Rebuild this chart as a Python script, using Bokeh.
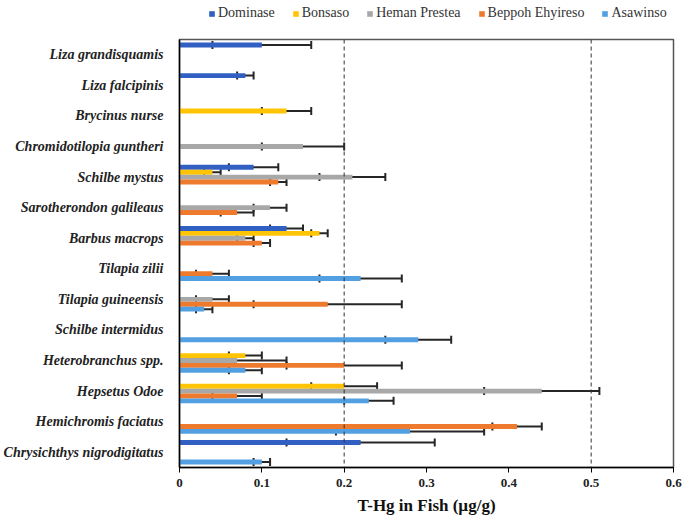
from bokeh.plotting import figure
from bokeh.layouts import column
from bokeh.models import (FactorRange, Range1d, ColumnDataSource, Whisker, TeeHead, Span,
                          Legend, LegendItem, FixedTicker, NumeralTickFormatter)
from bokeh.transform import dodge
from bokeh.embed import file_html
from bokeh.resources import INLINE

species = [
    "Liza grandisquamis", "Liza falcipinis", "Brycinus nurse", "Chromidotilopia guntheri",
    "Schilbe mystus", "Sarotherondon galileaus", "Barbus macrops", "Tilapia zilii",
    "Tilapia guineensis", "Schilbe intermidus", "Heterobranchus spp.", "Hepsetus Odoe",
    "Hemichromis faciatus", "Chrysichthys nigrodigitatus",
]
series = ["Dominase", "Bonsaso", "Heman Prestea", "Beppoh Ehyireso", "Asawinso"]
colors = ["#3160C2", "#FFC404", "#A8A8A8", "#EE7A2E", "#52A0E2"]

dominase = [0.10, 0.08, 0, 0, 0.09, 0, 0.13, 0, 0, 0, 0, 0, 0, 0.22]
dominase_err = [0.06, 0.01, 0, 0, 0.03, 0, 0.02, 0, 0, 0, 0, 0, 0, 0.09]
bonsaso = [0, 0, 0.13, 0, 0.04, 0, 0.17, 0, 0, 0, 0.08, 0.20, 0, 0]
bonsaso_err = [0, 0, 0.03, 0, 0.01, 0, 0.01, 0, 0, 0, 0.02, 0.04, 0, 0]
heman = [0, 0, 0, 0.15, 0.21, 0.11, 0.08, 0, 0.04, 0, 0.07, 0.44, 0, 0]
heman_err = [0, 0, 0, 0.05, 0.04, 0.02, 0.01, 0, 0.02, 0, 0.06, 0.07, 0, 0]
beppoh = [0, 0, 0, 0, 0.12, 0.07, 0.10, 0.04, 0.18, 0, 0.20, 0.07, 0.41, 0]
beppoh_err = [0, 0, 0, 0, 0.01, 0.02, 0.01, 0.02, 0.09, 0, 0.07, 0.03, 0.03, 0]
asawinso = [0, 0, 0, 0, 0, 0, 0, 0.22, 0.03, 0.29, 0.08, 0.23, 0.28, 0.10]
asawinso_err = [0, 0, 0, 0, 0, 0, 0, 0.05, 0.01, 0.04, 0.02, 0.03, 0.09, 0.01]

values = [dominase, bonsaso, heman, beppoh, asawinso]
errors = [dominase_err, bonsaso_err, heman_err, beppoh_err, asawinso_err]
offsets = [0.32, 0.16, 0.0, -0.16, -0.32]

x_ticks = [0, 0.1, 0.2, 0.3, 0.4, 0.5, 0.6]
thresholds = [0.2, 0.5]

FONT = "Liberation Serif"
W = 683
LEG_H = 26

# legend strip (its frame is aligned with the chart frame by the column layout)
lg = figure(width=W, height=LEG_H, output_backend="svg", toolbar_location=None,
            x_axis_type=None, y_axis_type=None, min_border=0,
            x_range=Range1d(0, 1), y_range=Range1d(5, 6))
lg.outline_line_color = None
lg.xgrid.visible = False
lg.ygrid.visible = False

# main chart
p = figure(width=W, height=522 - LEG_H,
           y_range=FactorRange(factors=species[::-1]),
           x_range=Range1d(0, 0.6),
           output_backend="svg", toolbar_location=None,
           min_border_left=176, min_border_right=10, min_border_top=39 - LEG_H, min_border_bottom=55)

p.xgrid.visible = False
p.ygrid.visible = False
p.outline_line_color = "#555555"
p.outline_line_width = 1.5

items = []
for name, vals, errs, off, col in zip(series, values, errors, offsets, colors):
    sp, v, lo, hi = [], [], [], []
    for s, a, e in zip(species, vals, errs):
        if a > 0:
            sp.append(s)
            v.append(a)
            lo.append(a - e)
            hi.append(a + e)
    src = ColumnDataSource(dict(species=sp, value=v, lower=lo, upper=hi))
    p.hbar(y=dodge("species", off, range=p.y_range), left=0, right="value", height=0.16,
           source=src, fill_color=col, line_color=None)
    w = Whisker(source=src, base=dodge("species", off, range=p.y_range), lower="lower", upper="upper",
                dimension="width", line_color="#262626", line_width=2,
                upper_head=TeeHead(size=8, line_color="#262626", line_width=2),
                lower_head=TeeHead(size=8, line_color="#262626", line_width=2))
    p.add_layout(w)
    # swatch renderer for the legend strip (falls outside the strip's visible range)
    sw = lg.hbar(y="value", left=0, right="value", height=0.01, source=src,
                 fill_color=col, line_color=None)
    items.append(LegendItem(label=name, renderers=[sw], index=0))

for t in thresholds:
    p.add_layout(Span(location=t, dimension="height", line_color="#333333",
                      line_dash="4 3", line_width=1))

xa = p.xaxis[0]
xa.ticker = FixedTicker(ticks=x_ticks)
xa.formatter = NumeralTickFormatter(format="0.[0]")
xa.minor_tick_line_color = None
xa.major_tick_in = 0
xa.major_tick_out = 5
xa.major_tick_line_color = "black"
xa.axis_line_color = "black"
xa.axis_line_width = 1.5
xa.major_label_standoff = 6
xa.major_label_text_font = FONT
xa.major_label_text_font_style = "bold"
xa.major_label_text_font_size = "13px"
xa.major_label_text_color = "#222222"
xa.axis_label = "T-Hg in Fish (µg/g)"
xa.axis_label_text_font = FONT
xa.axis_label_text_font_style = "bold"
xa.axis_label_text_font_size = "17px"
xa.axis_label_text_color = "#111111"
xa.axis_label_standoff = 6

ya = p.yaxis[0]
ya.major_tick_line_color = None
ya.minor_tick_line_color = None
ya.axis_line_color = "black"
ya.axis_line_width = 1.5
ya.major_label_standoff = 10
ya.major_label_text_font = FONT
ya.major_label_text_font_style = "bold italic"
ya.major_label_text_font_size = "14px"
ya.major_label_text_color = "#222222"

legend = Legend(items=items, orientation="horizontal", location=(29, 5),
                border_line_color=None, background_fill_alpha=0,
                label_text_font=FONT, label_text_font_size="14px", label_text_color="#333333",
                glyph_width=7, glyph_height=7, label_standoff=3, spacing=17,
                padding=0, margin=0, label_height=14)
lg.add_layout(legend)

layout = column(lg, p, spacing=0)
open("out.html", "w").write(file_html(layout, INLINE))
